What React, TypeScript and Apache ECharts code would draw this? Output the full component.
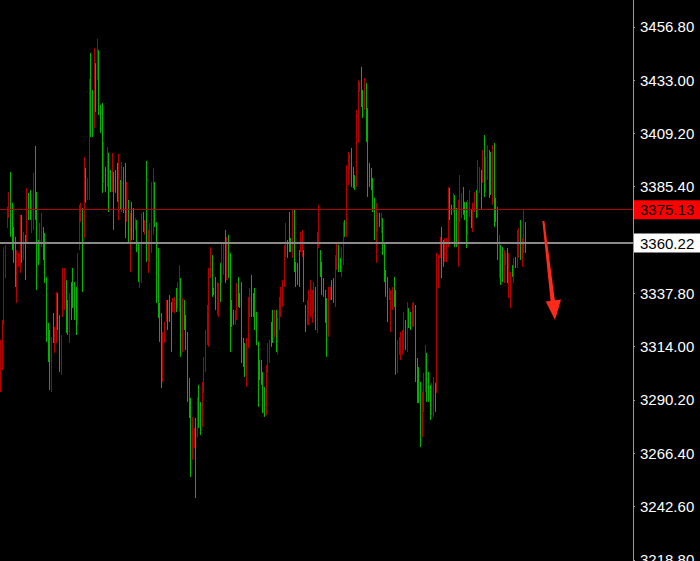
import React, { useEffect, useRef } from "react";
import * as echarts from "echarts";

// [open, close, low, high]
const leftSwing = [
  [3313.9, 3296.9, 3293.7, 3317.0], [3323.2, 3307.1, 3303.6, 3325.9], [3353.6, 3326.8, 3323.7, 3358.4],
  [3357.1, 3347.3, 3344.6, 3359.4], [3375.0, 3368.3, 3367.0, 3376.4], [3381.2, 3373.2, 3371.4, 3383.0],
  [3367.0, 3387.5, 3363.0, 3392.0], [3360.3, 3375.0, 3357.1, 3378.2], [3353.6, 3365.2, 3351.4, 3367.4],
  [3343.7, 3359.8, 3340.6, 3363.0], [3353.6, 3337.5, 3333.5, 3357.1], [3354.9, 3350.9, 3349.6, 3355.8],
  [3368.7, 3350.0, 3346.9, 3372.8], [3354.4, 3369.6, 3351.4, 3372.8], [3363.4, 3354.4, 3352.7, 3365.2],
  [3347.3, 3360.7, 3343.7, 3363.9], [3381.2, 3363.4, 3360.3, 3384.8], [3372.3, 3380.8, 3370.5, 3382.6],
  [3373.2, 3381.7, 3370.5, 3383.9], [3377.3, 3367.0, 3364.7, 3379.5], [3387.5, 3369.6, 3366.1, 3391.5],
  [3374.1, 3397.3, 3370.5, 3403.6], [3348.2, 3379.5, 3339.3, 3383.0], [3352.7, 3359.8, 3350.4, 3361.6],
  [3367.0, 3355.3, 3352.7, 3369.2], [3371.4, 3360.7, 3358.4, 3373.7], [3354.9, 3365.2, 3352.7, 3367.4],
  [3345.5, 3361.6, 3342.4, 3364.7], [3320.5, 3341.1, 3316.1, 3345.1], [3309.8, 3322.3, 3307.1, 3324.6],
  [3299.1, 3317.9, 3294.6, 3321.4], [3314.8, 3297.3, 3293.7, 3318.3], [3317.9, 3326.8, 3315.6, 3329.0],
  [3321.0, 3313.0, 3311.2, 3322.8], [3334.8, 3318.3, 3315.6, 3338.4], [3323.7, 3335.7, 3321.4, 3337.9],
  [3306.2, 3325.0, 3302.7, 3328.1], [3317.0, 3303.6, 3301.4, 3319.2], [3346.4, 3330.4, 3327.2, 3349.1],
  [3346.9, 3333.0, 3330.4, 3349.1], [3323.2, 3340.6, 3320.1, 3343.7], [3321.4, 3332.6, 3319.2, 3334.8],
  [3334.8, 3318.3, 3315.6, 3337.9], [3328.1, 3340.2, 3325.9, 3342.8], [3333.9, 3346.4, 3331.2, 3349.1],
  [3327.2, 3339.3, 3325.9, 3342.8], [3322.3, 3337.5, 3319.2, 3340.6], [3351.8, 3327.7, 3323.7, 3355.8],
  [3374.1, 3359.8, 3357.1, 3377.3], [3376.8, 3371.0, 3369.6, 3378.2], [3343.7, 3371.4, 3338.4, 3375.9],
  [3393.8, 3367.0, 3362.5, 3398.7], [3380.4, 3392.0, 3378.2, 3393.8], [3388.0, 3380.8, 3379.5, 3389.3],
];

const firstPeak = [
  [3430.4, 3418.8, 3379.5, 3433.5], [3410.7, 3441.1, 3407.6, 3445.1], [3409.8, 3425.9, 3407.6, 3428.6],
  [3442.9, 3416.1, 3411.6, 3447.3], [3421.4, 3437.5, 3418.8, 3440.6], [3448.7, 3435.7, 3433.0, 3451.4],
  [3420.5, 3442.9, 3417.4, 3446.4], [3411.6, 3419.7, 3409.4, 3421.9], [3388.4, 3418.8, 3382.6, 3422.8],
  [3403.6, 3389.3, 3387.1, 3405.4], [3384.8, 3392.9, 3383.0, 3394.2], [3400.9, 3387.5, 3385.3, 3403.1],
  [3379.5, 3397.3, 3374.1, 3400.5], [3384.4, 3391.5, 3383.0, 3392.9], [3398.2, 3385.3, 3383.0, 3400.5],
  [3370.5, 3389.3, 3366.1, 3392.0], [3383.9, 3391.5, 3382.6, 3392.9], [3381.2, 3393.8, 3378.6, 3396.0],
  [3396.4, 3374.1, 3370.5, 3400.0], [3377.3, 3386.6, 3375.0, 3388.4], [3393.8, 3376.8, 3374.1, 3396.4],
  [3376.8, 3392.0, 3373.7, 3394.2], [3367.0, 3392.9, 3362.5, 3396.0], [3385.7, 3371.9, 3369.6, 3387.5],
  [3363.4, 3376.8, 3360.3, 3379.5], [3370.5, 3361.6, 3347.3, 3373.7], [3364.3, 3376.4, 3361.6, 3378.6],
  [3363.4, 3374.1, 3361.6, 3375.9], [3370.5, 3367.0, 3366.1, 3371.4], [3358.4, 3368.7, 3356.2, 3370.5],
  [3345.5, 3358.4, 3342.8, 3360.7], [3357.1, 3342.8, 3340.2, 3359.4], [3369.6, 3346.0, 3342.4, 3373.7],
  [3366.5, 3372.8, 3365.2, 3374.1], [3369.6, 3365.2, 3363.9, 3370.5], [3361.6, 3379.5, 3351.8, 3396.9],
  [3363.9, 3350.0, 3346.9, 3366.1], [3367.0, 3354.4, 3351.8, 3369.2], [3383.9, 3359.4, 3355.8, 3387.5],
  [3390.2, 3367.0, 3363.9, 3393.8], [3369.6, 3385.7, 3367.4, 3387.5], [3337.0, 3367.0, 3333.5, 3369.6],
  [3330.4, 3354.4, 3326.8, 3358.0], [3317.9, 3331.2, 3316.1, 3333.5], [3299.1, 3325.0, 3295.5, 3329.0],
];

const firstLow = [
  [3317.9, 3300.9, 3298.2, 3320.5], [3323.7, 3317.0, 3315.6, 3325.0], [3333.5, 3326.3, 3325.0, 3334.8],
  [3323.2, 3333.0, 3321.4, 3334.8], [3326.8, 3335.3, 3325.0, 3337.0], [3315.2, 3331.2, 3311.6, 3333.9],
  [3334.8, 3330.4, 3329.5, 3335.7], [3335.3, 3329.9, 3329.0, 3336.2], [3331.2, 3338.8, 3329.5, 3340.2],
  [3341.5, 3333.0, 3331.2, 3342.8], [3347.3, 3332.6, 3329.5, 3350.4], [3313.4, 3339.3, 3309.4, 3344.6],
  [3332.6, 3314.7, 3311.6, 3335.7], [3323.2, 3333.0, 3321.4, 3334.8], [3314.3, 3325.9, 3312.5, 3328.1],
  [3293.7, 3316.1, 3289.3, 3320.5], [3284.8, 3297.3, 3282.1, 3300.0], [3263.4, 3285.7, 3255.8, 3291.1],
  [3280.3, 3266.0, 3263.4, 3282.6], [3276.8, 3270.1, 3268.7, 3277.7], [3254.4, 3276.8, 3246.4, 3282.1],
  [3289.3, 3276.8, 3273.6, 3291.5], [3280.3, 3293.7, 3277.7, 3296.9], [3276.8, 3287.5, 3274.5, 3289.3],
  [3295.5, 3281.2, 3278.1, 3298.2], [3307.1, 3295.5, 3293.3, 3309.4], [3319.2, 3305.4, 3302.7, 3321.4],
  [3330.4, 3317.0, 3314.7, 3332.6],
];

const midRange = [
  [3346.0, 3330.4, 3313.9, 3349.1], [3357.1, 3347.3, 3344.6, 3358.4], [3339.3, 3351.8, 3336.2, 3354.9],
  [3337.5, 3339.7, 3337.0, 3340.2], [3332.6, 3342.8, 3330.4, 3345.1], [3341.5, 3330.4, 3328.1, 3342.8],
  [3340.6, 3329.5, 3327.2, 3342.4], [3336.6, 3349.1, 3333.9, 3351.4], [3358.0, 3344.6, 3342.4, 3360.3],
  [3358.9, 3348.2, 3346.0, 3360.3], [3345.5, 3363.4, 3342.4, 3366.1], [3360.7, 3346.4, 3343.7, 3363.0],
  [3347.3, 3361.6, 3344.6, 3363.9], [3334.8, 3351.8, 3311.6, 3355.8], [3325.0, 3333.0, 3322.8, 3334.8],
  [3324.6, 3329.5, 3323.7, 3330.4], [3329.5, 3324.6, 3323.7, 3330.4], [3340.6, 3328.1, 3325.9, 3342.4],
  [3333.9, 3343.3, 3331.7, 3345.1], [3332.1, 3337.0, 3331.2, 3337.9], [3334.8, 3340.6, 3306.7, 3342.8],
  [3307.1, 3316.1, 3304.9, 3317.9], [3302.7, 3313.4, 3300.4, 3315.6], [3315.6, 3299.1, 3296.0, 3317.9],
  [3333.5, 3316.1, 3313.4, 3336.2], [3338.8, 3329.0, 3327.2, 3340.2], [3329.9, 3343.7, 3327.2, 3346.0],
  [3329.0, 3336.6, 3327.2, 3337.9], [3324.1, 3337.5, 3321.4, 3340.2], [3317.0, 3327.7, 3314.7, 3329.5],
  [3291.1, 3312.5, 3287.1, 3316.1], [3300.4, 3306.7, 3299.1, 3308.0], [3298.6, 3306.2, 3296.9, 3308.0],
  [3287.9, 3300.0, 3284.3, 3302.7], [3284.8, 3293.7, 3282.6, 3296.0], [3302.7, 3286.6, 3283.4, 3305.8],
  [3313.9, 3304.0, 3302.2, 3315.6], [3315.6, 3308.0, 3306.7, 3317.0], [3315.6, 3323.2, 3313.9, 3325.0],
  [3317.9, 3328.1, 3315.6, 3330.4], [3329.0, 3320.1, 3318.3, 3330.4], [3314.3, 3328.1, 3311.6, 3330.4],
  [3325.0, 3313.0, 3310.3, 3326.8], [3334.8, 3323.7, 3321.4, 3336.2], [3339.3, 3329.0, 3327.2, 3340.6],
  [3342.4, 3333.5, 3331.7, 3343.7], [3357.1, 3343.3, 3340.6, 3359.4], [3367.4, 3356.2, 3354.0, 3369.2],
  [3354.9, 3360.3, 3353.6, 3361.6], [3358.9, 3371.9, 3356.2, 3374.1], [3357.1, 3361.6, 3356.2, 3362.5],
  [3372.8, 3356.7, 3353.6, 3375.0], [3351.8, 3371.4, 3347.3, 3375.0], [3342.4, 3350.0, 3340.6, 3351.8],
  [3343.3, 3350.0, 3341.5, 3351.4], [3342.8, 3354.9, 3340.6, 3357.1], [3363.9, 3357.6, 3356.2, 3365.2],
  [3364.7, 3355.8, 3354.0, 3366.1], [3337.0, 3354.4, 3333.9, 3357.1], [3322.3, 3330.8, 3320.5, 3332.6],
  [3333.5, 3325.5, 3323.7, 3334.8], [3337.5, 3325.9, 3323.7, 3339.3], [3341.9, 3329.5, 3327.2, 3343.7],
];

const secondPeak = [
  [3337.5, 3326.8, 3324.6, 3339.3], [3341.5, 3330.8, 3329.0, 3342.8], [3324.1, 3338.4, 3321.4, 3340.6],
  [3361.6, 3323.7, 3320.1, 3365.2], [3375.0, 3359.8, 3358.0, 3377.3], [3346.9, 3355.3, 3345.1, 3357.1],
  [3339.3, 3350.0, 3337.0, 3351.8], [3337.5, 3343.3, 3336.2, 3344.6], [3326.8, 3337.5, 3324.6, 3339.3],
  [3313.4, 3332.1, 3309.4, 3335.7], [3338.4, 3321.4, 3318.3, 3340.6], [3339.7, 3335.7, 3334.8, 3340.6],
  [3336.2, 3342.4, 3334.8, 3343.7], [3335.3, 3342.8, 3333.5, 3344.6], [3351.8, 3334.8, 3331.7, 3354.9],
  [3359.4, 3350.0, 3348.2, 3360.7], [3349.1, 3358.0, 3347.3, 3359.4], [3348.2, 3352.2, 3347.3, 3353.6],
  [3357.1, 3346.9, 3345.1, 3358.4], [3367.4, 3352.7, 3350.4, 3369.6], [3364.3, 3369.2, 3363.0, 3370.5],
  [3392.0, 3366.5, 3363.0, 3395.1], [3400.0, 3388.0, 3386.2, 3400.9], [3398.7, 3393.8, 3392.9, 3400.0],
  [3387.5, 3400.5, 3385.3, 3402.7], [3386.2, 3392.9, 3384.8, 3394.2], [3384.8, 3389.3, 3383.9, 3390.6],
  [3416.1, 3388.4, 3385.3, 3419.7], [3429.9, 3408.5, 3404.9, 3433.0], [3431.7, 3428.1, 3427.7, 3432.2],
  [3423.2, 3436.6, 3421.0, 3438.9], [3417.9, 3426.8, 3416.1, 3428.6], [3432.6, 3421.4, 3419.7, 3433.9],
  [3408.9, 3428.6, 3405.4, 3431.7], [3397.3, 3417.0, 3380.8, 3420.5], [3387.1, 3394.7, 3385.3, 3396.0],
  [3385.7, 3392.4, 3383.9, 3393.8], [3376.4, 3387.5, 3374.1, 3389.3], [3364.3, 3378.2, 3361.6, 3380.4],
  [3375.0, 3367.0, 3351.4, 3378.2], [3372.8, 3366.5, 3365.2, 3373.7], [3368.3, 3372.3, 3367.4, 3373.7],
  [3372.3, 3366.1, 3364.7, 3373.7], [3357.1, 3369.6, 3354.9, 3371.4], [3345.1, 3358.4, 3342.8, 3360.3],
  [3337.9, 3346.9, 3336.2, 3348.2], [3327.7, 3342.8, 3325.0, 3345.1], [3339.3, 3335.7, 3334.8, 3340.2],
  [3337.5, 3323.2, 3320.5, 3339.3], [3339.3, 3332.1, 3330.4, 3340.6], [3333.9, 3343.3, 3331.7, 3345.1],
  [3305.8, 3334.8, 3301.4, 3339.3],
];

const secondLow = [
  [3315.2, 3304.5, 3302.2, 3317.0], [3317.4, 3311.6, 3310.3, 3318.3], [3319.2, 3309.8, 3308.0, 3320.5],
  [3320.1, 3312.1, 3310.3, 3321.4], [3327.2, 3314.7, 3312.5, 3329.5], [3314.7, 3324.1, 3312.5, 3325.9],
  [3331.2, 3314.7, 3311.6, 3333.9], [3323.7, 3329.9, 3322.3, 3331.2], [3322.8, 3328.1, 3321.4, 3329.5],
  [3332.1, 3324.1, 3322.8, 3333.5], [3332.6, 3324.6, 3322.8, 3333.9], [3302.7, 3329.5, 3298.2, 3332.6],
  [3291.9, 3306.2, 3288.8, 3308.9], [3291.1, 3302.7, 3288.8, 3304.9], [3275.9, 3294.6, 3269.2, 3298.2],
  [3291.5, 3276.8, 3273.6, 3293.7], [3300.0, 3287.5, 3284.8, 3302.2], [3312.1, 3296.9, 3293.7, 3314.7],
  [3292.8, 3308.0, 3289.3, 3311.2], [3291.5, 3300.9, 3289.3, 3302.7], [3283.9, 3294.6, 3281.2, 3296.9],
  [3296.4, 3285.7, 3283.4, 3297.8], [3298.6, 3285.2, 3282.6, 3300.4], [3287.1, 3296.0, 3284.8, 3297.8],
];

const recovery = [
  [3351.8, 3296.9, 3293.3, 3355.8], [3353.6, 3341.9, 3340.2, 3354.9], [3361.6, 3354.9, 3353.6, 3363.0],
  [3348.2, 3365.2, 3344.6, 3367.4], [3351.4, 3359.8, 3349.6, 3361.6], [3361.2, 3353.6, 3351.8, 3362.5],
  [3360.7, 3353.1, 3351.8, 3362.5], [3382.1, 3361.6, 3358.4, 3385.3], [3372.8, 3383.0, 3370.5, 3384.8],
  [3373.7, 3376.4, 3372.8, 3377.3], [3381.2, 3375.0, 3373.7, 3382.6], [3361.6, 3379.5, 3358.4, 3381.7],
  [3360.7, 3374.1, 3358.4, 3375.9], [3376.8, 3366.1, 3349.6, 3379.5], [3388.4, 3372.3, 3369.6, 3390.6],
  [3381.2, 3372.8, 3371.4, 3382.6], [3374.6, 3383.9, 3372.8, 3385.3], [3371.9, 3377.3, 3370.5, 3378.6],
  [3360.7, 3376.4, 3358.0, 3378.6], [3377.7, 3366.1, 3363.9, 3379.5], [3382.6, 3373.7, 3371.9, 3383.9],
  [3368.3, 3373.7, 3367.0, 3375.0], [3376.8, 3367.0, 3365.2, 3378.2], [3382.1, 3375.5, 3374.1, 3383.0],
  [3373.2, 3382.6, 3371.4, 3383.9], [3394.2, 3375.0, 3371.9, 3397.3], [3392.9, 3383.9, 3382.6, 3394.2],
  [3377.3, 3391.1, 3375.0, 3392.9], [3400.5, 3388.9, 3387.1, 3401.8], [3384.8, 3405.4, 3380.8, 3408.5],
  [3396.9, 3384.8, 3383.0, 3398.7], [3402.3, 3390.2, 3388.4, 3404.0], [3383.0, 3400.0, 3380.4, 3401.8],
  [3383.9, 3399.1, 3381.7, 3400.9], [3401.8, 3380.4, 3377.3, 3404.0], [3371.4, 3401.8, 3367.4, 3404.9],
  [3371.4, 3378.6, 3369.6, 3380.4], [3355.3, 3374.1, 3352.7, 3376.4], [3361.6, 3347.3, 3344.6, 3363.9],
  [3343.7, 3357.1, 3341.5, 3359.4], [3345.1, 3356.7, 3342.8, 3358.4], [3355.3, 3344.6, 3342.4, 3357.1],
  [3354.9, 3351.4, 3350.4, 3355.8], [3344.6, 3356.2, 3342.4, 3358.0], [3353.6, 3338.4, 3335.7, 3355.8],
  [3345.5, 3333.9, 3331.2, 3347.3], [3346.0, 3349.6, 3345.1, 3350.4], [3352.2, 3344.2, 3342.4, 3353.6],
  [3350.0, 3353.1, 3349.1, 3354.0], [3364.3, 3351.8, 3349.1, 3366.1], [3365.6, 3355.3, 3353.6, 3367.0],
  [3354.9, 3368.3, 3352.7, 3370.5], [3361.2, 3351.4, 3349.6, 3362.5], [3373.2, 3358.0, 3355.8, 3375.0],
  [3357.1, 3360.2, 3355.8, 3369.6],
];

const levelPrice = 3375.13;
const bidPrice = 3360.22;
const axisMin = 3195.0;
const axisMax = 3480.6;
const axisStep = 23.8;
const totalSlots = 386;

const GREEN = "#00b400";
const RED = "#b40000";
const FONT = "Liberation Sans";

export default function App() {
  const ref = useRef<HTMLDivElement>(null);

  useEffect(() => {
    document.body.style.margin = "0";
    const chart = echarts.init(ref.current as HTMLDivElement, null, { renderer: "svg" });
    const candles = [
      ...leftSwing,
      ...firstPeak,
      ...firstLow,
      ...midRange,
      ...secondPeak,
      ...secondLow,
      ...recovery,
    ];
    const categories = Array.from({ length: totalSlots }, (_, i) => String(i));

    const priceLabel = (bg: string) => ({
      show: true,
      position: "end",
      distance: 1,
      formatter: (p: any) => Number(p.value).toFixed(2),
      backgroundColor: bg,
      color: "#000000",
      padding: [2, 0, 2, 6],
      width: 60,
      lineHeight: 15,
      fontFamily: FONT,
      fontSize: 15,
    });

    chart.setOption({
      animation: false,
      backgroundColor: "#000000",
      grid: {
        left: 0,
        right: 67,
        top: -26.5,
        bottom: -52.1,
        containLabel: false,
        outerBoundsMode: "none",
      },
      xAxis: {
        type: "category",
        data: categories,
        boundaryGap: true,
        show: false,
      },
      yAxis: {
        type: "value",
        position: "right",
        min: axisMin,
        max: axisMax,
        interval: axisStep,
        splitLine: { show: false },
        axisLine: { show: true, lineStyle: { color: "#9a9a9a", width: 1 } },
        axisTick: { show: true, length: 2, lineStyle: { color: "#9a9a9a" } },
        axisLabel: {
          color: "#ffffff",
          fontFamily: FONT,
          fontSize: 15,
          margin: 7,
          showMinLabel: false,
          showMaxLabel: false,
          formatter: (v: number) => v.toFixed(2),
        },
      },
      series: [
        {
          type: "candlestick",
          data: candles,
          barWidth: 0.6,
          itemStyle: {
            color: GREEN,
            color0: RED,
            borderColor: GREEN,
            borderColor0: RED,
            borderColorDoji: GREEN,
            borderWidth: 1,
          },
          markLine: {
            silent: true,
            symbol: ["none", "none"],
            data: [
              {
                yAxis: levelPrice,
                lineStyle: { color: "#b00000", width: 1, type: "solid" },
                label: priceLabel("#ff0000"),
              },
              {
                yAxis: bidPrice,
                lineStyle: { color: "#8a8a8a", width: 2, type: "solid" },
                label: priceLabel("#ffffff"),
              },
            ],
          },
        },
      ],
      graphic: [
        {
          type: "polygon",
          shape: {
            points: [
              [542.4, 221],
              [544.4, 221],
              [555.2, 303],
              [550.8, 303],
            ],
          },
          style: { fill: "#ff2a1a" },
          z: 100,
        },
        {
          type: "polygon",
          shape: {
            points: [
              [545.8, 301.5],
              [561, 299.5],
              [555, 320],
            ],
          },
          style: { fill: "#ff2a1a" },
          z: 100,
        },
      ],
    });

    return () => chart.dispose();
  }, []);

  return (
    <div
      ref={ref}
      style={{ position: "fixed", left: 0, top: 0, width: 700, height: 561 }}
    />
  );
}
